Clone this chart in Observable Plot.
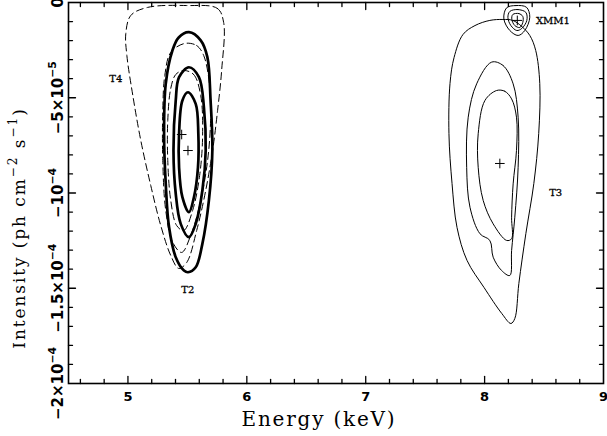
<!DOCTYPE html>
<html><head><meta charset="utf-8">
<script src="https://cdn.jsdelivr.net/npm/d3@7"></script>
<script src="https://cdn.jsdelivr.net/npm/@observablehq/plot@0.6"></script>
<style>html,body{margin:0;padding:0;background:#fff}svg{display:block}</style>
</head><body><div id="chart"></div>
<script>
// Intensity values in units of 1e-5 ph cm^-2 s^-1; energy in keV
const t2Outer = [[5.513,-1.56],[5.612,-1.99],[5.668,-2.87],[5.695,-5.14],[5.710,-7.77],[5.681,-10.39],[5.626,-12.67],[5.570,-13.90],[5.505,-14.16],[5.471,-14.07],[5.402,-13.37],[5.346,-11.80],[5.318,-9.52],[5.304,-6.89],[5.318,-4.27],[5.374,-2.52],[5.427,-1.84]];
const t2Mid = [[5.513,-3.40],[5.597,-3.92],[5.639,-5.50],[5.654,-7.77],[5.626,-9.87],[5.570,-11.62],[5.513,-12.32],[5.444,-11.62],[5.402,-10.04],[5.383,-7.77],[5.402,-5.14],[5.430,-3.92]];
const t2Inner = [[5.505,-4.71],[5.570,-5.32],[5.592,-6.89],[5.589,-8.65],[5.555,-10.22],[5.513,-11.01],[5.458,-10.22],[5.430,-8.65],[5.430,-6.89],[5.458,-5.14]];
const t4Outer = [[5.494,-0.16],[5.752,-0.31],[5.805,-1.05],[5.788,-3.57],[5.754,-5.67],[5.712,-7.77],[5.654,-9.87],[5.578,-11.97],[5.494,-13.65],[5.427,-13.96],[5.360,-13.28],[5.276,-11.71],[5.192,-9.61],[5.108,-7.24],[5.041,-4.88],[4.991,-2.78],[4.982,-1.63],[5.024,-0.68],[5.164,-0.26]];
const t4Mid = [[5.477,-2.15],[5.578,-2.26],[5.637,-2.78],[5.687,-4.36],[5.695,-6.19],[5.670,-8.29],[5.612,-10.39],[5.528,-12.23],[5.452,-13.12],[5.377,-12.60],[5.318,-10.92],[5.293,-8.29],[5.293,-5.67],[5.310,-3.83],[5.360,-2.62]];
const t4Inner = [[5.469,-3.57],[5.553,-3.78],[5.612,-4.88],[5.628,-6.98],[5.603,-9.08],[5.544,-10.92],[5.469,-11.97],[5.410,-11.71],[5.360,-10.39],[5.335,-8.29],[5.335,-6.19],[5.360,-4.51],[5.402,-3.78]];
const t3Outer = [[8.237,-0.94],[8.313,-1.26],[8.380,-1.73],[8.430,-2.52],[8.464,-4.25],[8.455,-6.88],[8.414,-9.50],[8.347,-12.13],[8.288,-14.75],[8.254,-16.59],[8.221,-16.85],[8.145,-16.33],[7.995,-14.96],[7.852,-13.54],[7.768,-11.81],[7.726,-9.50],[7.700,-6.88],[7.709,-4.25],[7.743,-2.89],[7.818,-1.68],[7.919,-1.21],[8.044,-0.94],[8.154,-0.89]];
const t3Mid = [[8.059,-3.13],[8.156,-3.31],[8.240,-4.27],[8.282,-6.02],[8.282,-8.65],[8.254,-11.27],[8.227,-13.02],[8.212,-14.33],[8.143,-14.07],[8.072,-13.37],[8.044,-12.49],[7.961,-12.14],[7.877,-10.75],[7.849,-8.65],[7.862,-6.02],[7.933,-4.27]];
const t3Inner = [[8.101,-4.62],[8.170,-4.66],[8.227,-5.06],[8.268,-6.02],[8.268,-7.77],[8.240,-9.52],[8.227,-11.27],[8.227,-12.40],[8.185,-12.49],[8.072,-11.62],[7.988,-10.39],[7.946,-8.65],[7.946,-6.89],[8.003,-5.14]];
const xmmOuter = [[8.185,-0.28],[8.263,-0.16],[8.352,-0.25],[8.380,-0.77],[8.338,-1.47],[8.282,-1.73],[8.212,-1.47],[8.162,-0.86]];
const xmmMid = [[8.212,-0.47],[8.279,-0.37],[8.347,-0.52],[8.355,-0.94],[8.313,-1.36],[8.271,-1.47],[8.221,-1.21],[8.196,-0.79]];
const xmmInner = [[8.237,-0.63],[8.288,-0.58],[8.321,-0.73],[8.321,-1.05],[8.296,-1.31],[8.254,-1.21],[8.229,-0.89]];

const bestFits = [
  {name:"T2", energy:5.505, intensity:-7.77},
  {name:"T4", energy:5.452, intensity:-6.93},
  {name:"T3", energy:8.128, intensity:-8.45},
  {name:"XMM1", energy:8.275, intensity:-0.94}
];
const labels = [
  {text:"T4", energy:4.898, intensity:-3.99},
  {text:"T2", energy:5.503, intensity:-15.07},
  {text:"T3", energy:8.598, intensity:-9.97},
  {text:"XMM1", energy:8.575, intensity:-0.94}
];
const xMajor = [5, 6, 7, 8, 9];
const xMinor = d3.range(23).map(i => +(4.6 + i * 0.2).toFixed(1)).filter(v => v < 9 && !Number.isInteger(v));
const yMajor = [0, -5, -10, -15, -20];
const yMajorLabels = ["0", "−5×10^{−5}", "−10^{−4}", "−1.5×10^{−4}", "−2×10^{−4}"];
const yMinor = d3.range(-19, 0).filter(v => v % 5 !== 0);
const xTitle = "Energy (keV)";
const yTitle = "Intensity (ph cm^{−2} s^{−1})";

function rows(set, pts) { return pts.map(([e, i]) => ({set, energy: e, intensity: i})); }
const thick = [...rows("t2o", t2Outer), ...rows("t2m", t2Mid), ...rows("t2i", t2Inner)];
const dashed = [...rows("t4o", t4Outer), ...rows("t4m", t4Mid), ...rows("t4i", t4Inner)];
const thin = [...rows("t3o", t3Outer), ...rows("t3m", t3Mid), ...rows("t3i", t3Inner),
              ...rows("xo", xmmOuter), ...rows("xm", xmmMid), ...rows("xi", xmmInner)];

const tickShape = {draw(context, l) { context.moveTo(0, 0); context.lineTo(0, -l); }};
const tk = (data, ch, anchor, rot, len) => Plot.vector(data, {
  [ch]: d => d, frameAnchor: anchor, rotate: rot, length: len, anchor: "start",
  shape: tickShape, stroke: "black", strokeWidth: 1.3
});
const majorXInner = xMajor.filter(v => v < 9);
const majorYInner = yMajor.filter(v => v > -20 && v < 0);

const sansBold = {fontFamily: "DejaVu Sans", fontWeight: "bold", fill: "black"};

const chart = Plot.plot({
  width: 607, height: 436,
  marginLeft: 68, marginRight: 4, marginTop: 2, marginBottom: 53,
  x: {domain: [4.5, 9], axis: null},
  y: {domain: [-20, 0], axis: null},
  style: {background: "white"},
  marks: [
    Plot.line(dashed, {x: "energy", y: "intensity", z: "set", curve: "catmull-rom-closed", stroke: "black", strokeWidth: 1, strokeDasharray: "7,4"}),
    Plot.line(thin, {x: "energy", y: "intensity", z: "set", curve: "catmull-rom-closed", stroke: "black", strokeWidth: 1}),
    Plot.line(thick, {x: "energy", y: "intensity", z: "set", curve: "catmull-rom-closed", stroke: "black", strokeWidth: 2.7}),
    Plot.dot(bestFits, {x: "energy", y: "intensity", symbol: "plus", r: 3.2, stroke: "black", strokeWidth: 1}),
    Plot.text(labels, {x: "energy", y: "intensity", text: "text", fontFamily: "DejaVu Serif", fontSize: 10, fill: "black", stroke: "black", strokeWidth: 0.3}),
    tk(xMinor, "x", "bottom", 0, 4), tk(majorXInner, "x", "bottom", 0, 7),
    tk(xMinor, "x", "top", 180, 4), tk(majorXInner, "x", "top", 180, 7),
    tk(yMinor, "y", "left", 90, 4), tk(majorYInner, "y", "left", 90, 7),
    tk(yMinor, "y", "right", -90, 4), tk(majorYInner, "y", "right", -90, 7),
    Plot.frame({stroke: "black", strokeWidth: 1.6}),
    Plot.text(xMajor, {x: d => d, frameAnchor: "bottom", dy: 13, text: d => String(d), lineAnchor: "middle", fontSize: 13, ...sansBold}),
    Plot.text(yMajor, {y: d => d, frameAnchor: "left", dx: -6, rotate: -90, text: (d, i) => yMajorLabels[i], lineAnchor: "bottom", textAnchor: "middle", fontSize: 15, ...sansBold}),
    Plot.text([xTitle], {frameAnchor: "bottom", dx: -17, dy: 36, text: d => d, lineAnchor: "middle", fontFamily: "DejaVu Serif", fontSize: 20, fill: "black"}),
    Plot.text([yTitle], {frameAnchor: "left", dx: -49, dy: 35, rotate: -90, text: d => d, lineAnchor: "middle", textAnchor: "middle", fontFamily: "DejaVu Serif", fontSize: 17, fill: "black"})
  ]
});
document.getElementById("chart").appendChild(chart);

chart.querySelectorAll("text").forEach(t => {
  const s = t.textContent;
  if (s === xTitle) t.setAttribute("letter-spacing", "1.8");
  if (s === yTitle) t.setAttribute("letter-spacing", "1.9");
});

// Render "^{...}" as real superscript tspans
chart.querySelectorAll("text").forEach(t => {
  const targets = t.querySelectorAll("tspan").length ? [...t.querySelectorAll("tspan")] : [t];
  targets.forEach(n => {
    const s = n.textContent;
    if (!s.includes("^{")) return;
    const fs = parseFloat(getComputedStyle(n).fontSize) || 15;
    const shift = fs * 0.45;
    n.textContent = "";
    const parts = s.split(/\^\{([^}]*)\}/);
    let raised = false;
    parts.forEach((p, k) => {
      const isSup = k % 2 === 1;
      if (!p) return;
      const sp = document.createElementNS("http://www.w3.org/2000/svg", "tspan");
      sp.textContent = p;
      if (isSup) {
        sp.setAttribute("font-size", (fs * 0.72).toFixed(1));
        sp.setAttribute("dy", (raised ? 0 : -shift).toFixed(1));
        raised = true;
      } else if (raised) {
        sp.setAttribute("dy", shift.toFixed(1));
        raised = false;
      }
      n.appendChild(sp);
    });
  });
});
</script>
</body></html>
